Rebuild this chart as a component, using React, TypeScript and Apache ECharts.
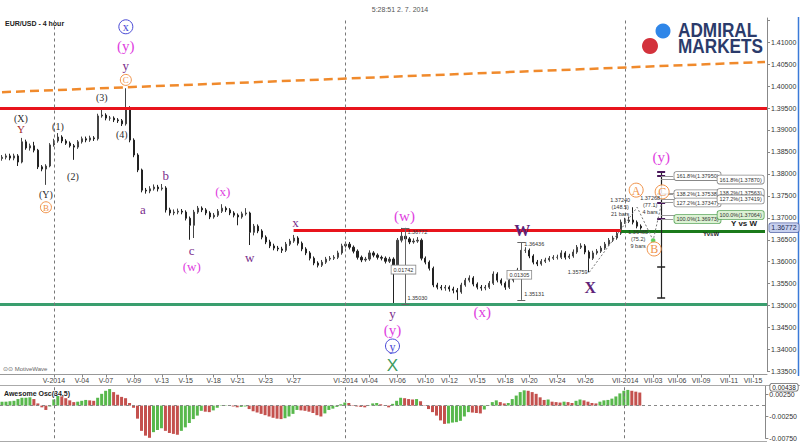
import React, { useEffect, useRef } from "react";
import * as echarts from "echarts";

// ---------- data ----------
const slotCount = 192; // 4H bar slots across the plot (incl. future area)
const firstOpen = 1.3835;
const closes = [
  1.3838, 1.3841, 1.3836, 1.3841, 1.3827, 1.3873, 1.3859, 1.3864, 1.3854, 1.3816,
  1.3811, 1.3818, 1.3866, 1.3875, 1.3884, 1.3875, 1.387, 1.3864, 1.3861, 1.3873,
  1.388, 1.3877, 1.3882, 1.388, 1.3932, 1.3934, 1.3927, 1.3927, 1.3923, 1.3921,
  1.3914, 1.395, 1.3877, 1.3843, 1.3809, 1.3763, 1.3761, 1.3766, 1.377, 1.3766,
  1.3768, 1.3718, 1.3711, 1.3713, 1.3715, 1.3713, 1.3699, 1.3683, 1.3713, 1.3722,
  1.3718, 1.3711, 1.3702, 1.3706, 1.3715, 1.3722, 1.3718, 1.3711, 1.3706, 1.3702,
  1.3709, 1.3711, 1.3667, 1.3681, 1.367, 1.3656, 1.3645, 1.3636, 1.3631, 1.3629,
  1.3626, 1.364, 1.3647, 1.3654, 1.3642, 1.3629, 1.362, 1.3608, 1.3597, 1.3592,
  1.3599, 1.3606, 1.3608, 1.361, 1.362, 1.3636, 1.364, 1.3633, 1.3624, 1.361,
  1.3604, 1.3606, 1.362, 1.3615, 1.361, 1.3608, 1.3601, 1.3606, 1.3581, 1.3649,
  1.3658, 1.3652, 1.3645, 1.3647, 1.3649, 1.3608, 1.3599, 1.3585, 1.3547, 1.3542,
  1.354, 1.3542, 1.3538, 1.3535, 1.3531, 1.3547, 1.3558, 1.3563, 1.3549, 1.3542,
  1.354, 1.3542, 1.3551, 1.3572, 1.3558, 1.3551, 1.3542, 1.3558, 1.3567, 1.3581,
  1.3626, 1.3626, 1.3613, 1.3599, 1.3595, 1.3601, 1.3604, 1.3608, 1.361, 1.361,
  1.362, 1.361, 1.3613, 1.3622, 1.3633, 1.3636, 1.3622, 1.3608, 1.362, 1.3624,
  1.3631, 1.364, 1.3649, 1.3654, 1.3665, 1.369, 1.3692, 1.3695, 1.369, 1.3681,
  1.3677,
];
const highs = [
  1.3843, 1.3846, 1.3846, 1.3846, 1.3845, 1.3882, 1.3878, 1.3869, 1.3873, 1.3857,
  1.382, 1.3822, 1.387, 1.388, 1.3893, 1.3888, 1.3879, 1.3874, 1.3868, 1.3877,
  1.3885, 1.3885, 1.3887, 1.3886, 1.3937, 1.3946, 1.3938, 1.3932, 1.3931, 1.3927,
  1.3925, 1.3995, 1.3954, 1.3881, 1.3847, 1.3812, 1.3768, 1.3772, 1.3776, 1.3775,
  1.3777, 1.3772, 1.3723, 1.3719, 1.3721, 1.372, 1.3717, 1.3703, 1.3718, 1.3727,
  1.3726, 1.3722, 1.3715, 1.3711, 1.372, 1.3731, 1.3726, 1.3722, 1.3715, 1.371,
  1.3714, 1.3722, 1.3714, 1.3686, 1.3685, 1.3674, 1.366, 1.365, 1.3641, 1.3636,
  1.3634, 1.3645, 1.3652, 1.3661, 1.3658, 1.3646, 1.3633, 1.3624, 1.3612, 1.3601,
  1.3604, 1.3611, 1.3613, 1.3615, 1.3625, 1.3641, 1.3646, 1.3645, 1.3637, 1.3628,
  1.3614, 1.3611, 1.3626, 1.3624, 1.3619, 1.3614, 1.3612, 1.3611, 1.361, 1.3654,
  1.3677, 1.3664, 1.3656, 1.3653, 1.3656, 1.3653, 1.3612, 1.3603, 1.3589, 1.3552,
  1.3547, 1.3547, 1.3546, 1.3543, 1.354, 1.3552, 1.3563, 1.3569, 1.3567, 1.3553,
  1.3547, 1.3547, 1.3556, 1.3578, 1.3576, 1.3562, 1.3555, 1.3563, 1.3572, 1.3586,
  1.3644, 1.3633, 1.363, 1.3617, 1.3604, 1.3606, 1.3609, 1.3613, 1.3615, 1.3616,
  1.3626, 1.3624, 1.3618, 1.3628, 1.3638, 1.3642, 1.364, 1.3626, 1.3625, 1.3629,
  1.3636, 1.3645, 1.3654, 1.3659, 1.367, 1.3696, 1.37, 1.3703, 1.3724, 1.3694,
  1.3685,
];
const lows = [
  1.383, 1.3833, 1.3831, 1.3831, 1.3818, 1.3824, 1.3855, 1.3853, 1.3849, 1.3811,
  1.3806, 1.3775, 1.3815, 1.3862, 1.3871, 1.387, 1.3866, 1.386, 1.3832, 1.3857,
  1.3869, 1.3872, 1.3873, 1.3875, 1.3876, 1.3928, 1.3922, 1.3921, 1.3918, 1.3916,
  1.3909, 1.391, 1.3872, 1.3838, 1.3804, 1.3758, 1.3755, 1.3756, 1.3762, 1.376,
  1.3762, 1.3712, 1.3705, 1.3706, 1.3708, 1.3708, 1.3694, 1.365, 1.3654, 1.3709,
  1.3713, 1.3706, 1.3697, 1.3698, 1.3702, 1.3711, 1.3713, 1.3706, 1.3701, 1.3683,
  1.3698, 1.3705, 1.3638, 1.366, 1.3665, 1.3651, 1.364, 1.3631, 1.3626, 1.3624,
  1.362, 1.3622, 1.3636, 1.3643, 1.3637, 1.3624, 1.3615, 1.3603, 1.3592, 1.3587,
  1.3588, 1.3595, 1.3602, 1.3604, 1.3606, 1.3616, 1.3632, 1.3628, 1.3619, 1.3605,
  1.3599, 1.36, 1.3602, 1.361, 1.3605, 1.3603, 1.3596, 1.3597, 1.3503, 1.3577,
  1.3644, 1.3647, 1.364, 1.3641, 1.3643, 1.3603, 1.3594, 1.358, 1.3542, 1.3537,
  1.3535, 1.3534, 1.3532, 1.3528, 1.3513, 1.3527, 1.3543, 1.3553, 1.3544, 1.3537,
  1.3534, 1.3535, 1.3538, 1.3547, 1.3553, 1.3546, 1.3536, 1.3538, 1.3553, 1.3563,
  1.3577, 1.362, 1.3608, 1.3594, 1.359, 1.3591, 1.3597, 1.36, 1.3604, 1.3605,
  1.3606, 1.3605, 1.3606, 1.3609, 1.3618, 1.3629, 1.3617, 1.3576, 1.3604, 1.3616,
  1.362, 1.3627, 1.3636, 1.3645, 1.365, 1.3661, 1.3686, 1.3688, 1.3685, 1.3676,
  1.3673,
];
const aoValues = [
  0.0009, 0.0009, 0.001, 0.0011, 0.0015, 0.0018, 0.0018, 0.0019, 0.0015, 0.0005,
  -0.0004, -0.001, -0.0002, 0.0014, 0.0022, 0.0021, 0.0017, 0.0012, 0.0008, 0.0009,
  0.0011, 0.0013, 0.0012, 0.0011, 0.0018, 0.0027, 0.0034, 0.0038, 0.0031, 0.0025,
  0.002, 0.0017, 0.0006, -0.0005, -0.003, -0.0058, -0.0069, -0.0074, -0.0061, -0.0056,
  -0.0052, -0.0058, -0.0063, -0.0065, -0.0067, -0.0058, -0.005, -0.004, -0.0031, -0.0023,
  -0.0012, -0.0014, -0.0015, -0.0011, -0.0005, -0.0001, 0.0001, -0.0001, -0.0002, -0.0004,
  -0.0003, -0.0002, -0.0008, -0.0013, -0.0016, -0.0019, -0.0022, -0.0025, -0.0028, -0.003,
  -0.0031, -0.0029, -0.0025, -0.0019, -0.001, -0.0011, -0.0012, -0.0014, -0.0017, -0.0022,
  -0.0025, -0.0018, -0.001, -0.0007, -0.0003, 0.0003, 0.0007, 0.0006, 0.0001, -0.0002,
  -0.0003, -0.0004, -0.0001, 0.0005, 0.0006, 0.0003, -0.0001, -0.0004, 0.0004, 0.0011,
  0.0018, 0.0017, 0.0015, 0.0014, 0.0015, 0.001, -0.0001, -0.0008, -0.0015, -0.0023,
  -0.0034, -0.0042, -0.0041, -0.0039, -0.0038, -0.0035, -0.0025, -0.0015, -0.0016, -0.0017,
  -0.0018, -0.0009, 0.0001, 0.0008, 0.0012, 0.0008, 0.0005, 0.0006, 0.0015, 0.0023,
  0.0031, 0.0035, 0.0034, 0.0031, 0.0027, 0.0019, 0.0013, 0.0014, 0.0009, 0.0008,
  0.0007, 0.0009, 0.0008, 0.0006, 0.0011, 0.0014, 0.0012, 0.0009, 0.0006, 0.0005,
  0.0009, 0.0012, 0.0013, 0.0016, 0.0021, 0.0028, 0.0034, 0.0036, 0.0034, 0.0032,
  0.003,
];
const timeLabelIdx = [13, 20, 26, 33, 40, 46, 53, 59, 66, 73, 86, 92, 99, 106, 112, 119, 126, 132, 139, 146, 156, 163, 169, 175, 182, 188];
const timeLabels = ["V-2014", "V-04", "V-07", "V-09", "V-13", "V-15", "V-18", "V-21", "V-23", "V-27", "VI-2014", "VI-04", "VI-06", "VI-10", "VI-12", "VI-15", "VI-18", "VI-20", "VI-24", "VI-26", "VII-2014", "VII-03", "VII-06", "VII-09", "VII-11", "VII-15"];
const monthStartIdx = [13, 86, 156];

const resistance = 1.395;
const support = 1.3503;
const redW = 1.3672;
const greenW = 1.3669;
const currentPrice = 1.36772;
const aoCurrentText = "0.00438";
const trendLine = [[0, 1.3986], [191, 1.4055]];
const projection = [[147, 1.35759], [159, 1.3724], [163, 1.36485], [165, 1.37288]];
const measure1 = { idx: 101, low: 1.3503, high: 1.36772, diff: "0.01742" };
const measure2 = { idx: 130, low: 1.35131, high: 1.36436, diff: "0.01305" };
const fibIdx = 165;
const fibRange = [1.3517, 1.3805];
const fibMid = 1.3588;
const fibLeft = [["161.8%", 1.3795], ["138.2%", 1.37538], ["127.2%", 1.37347], ["100.0%", 1.36973]];
const fibRight = [["161.8%", 1.3787], ["138.2%", 1.37563], ["127.2%", 1.37419], ["100.0%", 1.37064]];

// wave labels: [index, price, text, kind]
const waveLabels: [number, number, string, string][] = [
  [4.75, 1.3927, "(X)", "dark"],
  [4.75, 1.3902, "Y", "brown"],
  [14, 1.3907, "(1)", "dark"],
  [17.75, 1.3795, "(2)", "dark"],
  [25, 1.3973, "(3)", "dark"],
  [30, 1.3889, "(4)", "dark"],
  [11, 1.3754, "(Y)", "dark"],
  [35.25, 1.372, "a", "purple"],
  [41, 1.3797, "b", "purple"],
  [55.25, 1.3759, "(x)", "magenta"],
  [47.5, 1.3626, "c", "purple"],
  [47.5, 1.3588, "(w)", "magenta"],
  [62, 1.361, "w", "purple"],
  [73.5, 1.369, "x", "purple"],
  [100.75, 1.3704, "(w)", "magentaL"],
  [130.25, 1.367, "W", "purpleL"],
  [120.25, 1.3485, "(x)", "magentaL"],
  [97.75, 1.3481, "y", "purple"],
  [97.75, 1.3444, "(y)", "magentaL"],
  [97.75, 1.3364, "X", "green"],
  [147.25, 1.3542, "X", "purpleL"],
  [165, 1.3839, "(y)", "magentaL"],
  [31, 1.4046, "y", "purple"],
  [31, 1.4092, "(y)", "magentaL"],
];
// circled labels: [index, price, letter, color, radius]
const circled: [number, number, string, string, number][] = [
  [31, 1.4135, "x", "#4a4ad6", 7],
  [31, 1.4014, "C", "#f0934a", 5.5],
  [11, 1.3724, "B", "#f0934a", 5.5],
  [97.75, 1.3408, "y", "#4a4ad6", 7],
  [158.75, 1.3763, "A", "#f0934a", 7],
  [163.25, 1.3629, "B", "#f0934a", 7],
  [165.25, 1.3759, "C", "#f0934a", 7],
];
// small info texts: [index, price, text, align]
const infoTexts: [number, number, string, string][] = [
  [154.75, 1.3725, "1.37240\n(148.5)\n21 bars", "center"],
  [162.25, 1.3729, "1.37268\n(77.1)\n4 bars", "center"],
  [159.25, 1.3652, "1.36485\n(75.2)\n9 bars", "center"],
  [146.6, 1.3576, "1.35759", "right"],
  [101.5, 1.3667, "1.36772", "left"],
  [101.5, 1.3518, "1.35030", "left"],
  [130.75, 1.364, "1.36436", "left"],
  [130.75, 1.3526, "1.35131", "left"],
];

const AO_GREEN = "#58b84c";
const AO_RED = "#c4514e";

export default function App() {
  const ref = useRef<HTMLDivElement>(null);
  useEffect(() => {
    const chart = echarts.init(ref.current!, null, { renderer: "svg" });
    const cats = Array.from({ length: slotCount }, (_, i) => String(i));
    const labelMap: Record<number, string> = {};
    timeLabelIdx.forEach((idx, k) => (labelMap[idx] = timeLabels[k]));
    const candles = closes.map((c, i) => [i === 0 ? firstOpen : closes[i - 1], c, lows[i], highs[i]]);
    const aoData = aoValues.map((v, i) => ({
      value: v,
      itemStyle: { color: i > 0 && v < aoValues[i - 1] ? AO_RED : AO_GREEN },
    }));

    const seg = (a: number[], b: number[], ls: any) => [
      { coord: a, lineStyle: ls },
      { coord: b, lineStyle: ls },
    ];
    const gray = { color: "#666", width: 1, type: "solid" };
    const fibLs = { color: "#999", width: 1, type: "solid" };
    const capPurple = { color: "#4b1a5c", width: 2, type: "solid" };
    const mainLines: any[] = [
      { yAxis: resistance, lineStyle: { color: "#e8141c", width: 3, type: "solid" } },
      { yAxis: support, lineStyle: { color: "#3a9e6e", width: 3, type: "solid" } },
      ...monthStartIdx.map((i) => ({ xAxis: i, lineStyle: { color: "#777", width: 1, type: [3, 3] } })),
      seg(trendLine[0], trendLine[1], { color: "#f08a2c", width: 2.5, type: [9, 5] }),
      seg([73, redW], [155, redW], { color: "#e8141c", width: 3, type: "solid" }),
      seg([155, greenW], [191, greenW], { color: "#1b7a1b", width: 3, type: "solid" }),
      seg([measure1.idx, measure1.low], [measure1.idx, measure1.high], gray),
      seg([measure1.idx - 1, measure1.low], [measure1.idx + 1, measure1.low], gray),
      seg([measure1.idx - 1, measure1.high], [measure1.idx + 1, measure1.high], gray),
      seg([measure2.idx, measure2.low], [measure2.idx, measure2.high], gray),
      seg([measure2.idx - 1, measure2.low], [measure2.idx + 1, measure2.low], gray),
      seg([measure2.idx - 1, measure2.high], [measure2.idx + 1, measure2.high], gray),
      seg([fibIdx, fibRange[0]], [fibIdx, fibRange[1]], { color: "#222", width: 1.2, type: "solid" }),
      seg([fibIdx - 1, fibRange[0]], [fibIdx + 1, fibRange[0]], { color: "#222", width: 1.5, type: "solid" }),
      seg([fibIdx - 1, fibMid], [fibIdx + 1, fibMid], { color: "#222", width: 1.5, type: "solid" }),
      seg([fibIdx - 1, fibRange[1]], [fibIdx + 1, fibRange[1]], capPurple),
      ...fibLeft.map((f) => seg([fibIdx - 1, f[1] as number], [fibIdx + 1, f[1] as number], capPurple)),
      ...fibLeft.map((f) => seg([fibIdx, f[1] as number], [fibIdx + 3, f[1] as number], fibLs)),
      ...fibRight.map((f) => seg([fibIdx, f[1] as number], [fibIdx + 14, f[1] as number], fibLs)),
    ];

    chart.setOption({
      animation: false,
      textStyle: { fontFamily: "Liberation Sans" },
      grid: [
        { left: 0, right: 33, top: 18, bottom: 71.5 },
        { left: 0, right: 33, top: 386, bottom: 4.75 },
      ],
      xAxis: [
        {
          type: "category",
          gridIndex: 0,
          data: cats,
          boundaryGap: true,
          offset: 3,
          axisLine: { show: true, lineStyle: { color: "#999" } },
          axisTick: {
            show: true,
            alignWithLabel: true,
            length: 3,
            interval: (idx: number) => labelMap[idx] !== undefined,
            lineStyle: { color: "#888" },
          },
          axisLabel: {
            interval: (idx: number) => labelMap[idx] !== undefined,
            formatter: (_v: string, idx: number) => labelMap[idx] || "",
            fontSize: 7,
            color: "#444",
            margin: 2,
          },
          splitLine: { show: false },
        },
        {
          type: "category",
          gridIndex: 1,
          data: cats,
          boundaryGap: true,
          axisLine: { show: false },
          axisTick: { show: false },
          axisLabel: { show: false },
          splitLine: { show: false },
        },
      ],
      yAxis: [
        {
          type: "value",
          gridIndex: 0,
          position: "right",
          min: 1.335,
          max: 1.4155,
          interval: 0.005,
          scale: true,
          axisLine: { show: true, lineStyle: { color: "#888" } },
          axisTick: { show: true, length: 3, lineStyle: { color: "#888" } },
          axisLabel: {
            fontSize: 7,
            color: "#333",
            margin: 4,
            showMaxLabel: false,
            formatter: (v: number) => (v > 1.4125 ? "" : v.toFixed(5)),
          },
          splitLine: { show: false },
        },
        {
          type: "value",
          gridIndex: 1,
          position: "right",
          min: -0.0075,
          max: 0.0045,
          interval: 0.005,
          axisLine: { show: true, lineStyle: { color: "#888" } },
          axisTick: { show: true, length: 3, lineStyle: { color: "#888" } },
          axisLabel: {
            fontSize: 7,
            color: "#333",
            margin: 4,
            showMaxLabel: false,
            formatter: (v: number) => v.toFixed(5),
          },
          splitLine: { show: false },
        },
      ],
      series: [
        {
          type: "candlestick",
          xAxisIndex: 0,
          yAxisIndex: 0,
          data: candles,
          barWidth: 1.6,
          itemStyle: {
            color: "#444",
            color0: "#222",
            borderColor: "#444",
            borderColor0: "#222",
            borderWidth: 1,
          },
          markLine: {
            silent: true,
            precision: 5,
            symbol: ["none", "none"],
            label: { show: false },
            animation: false,
            data: mainLines,
          },
        },
        {
          type: "line",
          xAxisIndex: 0,
          yAxisIndex: 0,
          data: projection,
          symbol: "circle",
          symbolSize: 5,
          itemStyle: { color: "#5fcf5f", borderColor: "#fff", borderWidth: 0.5 },
          lineStyle: { color: "#777", width: 1, type: [2, 2] },
          z: 5,
        },
        {
          type: "bar",
          xAxisIndex: 1,
          yAxisIndex: 1,
          data: aoData,
          barWidth: 3,
          markLine: {
            silent: true,
            precision: 5,
            symbol: ["none", "none"],
            label: { show: false },
            data: [
              { yAxis: 0, lineStyle: { color: "#888", width: 1, type: [3, 3] } },
              ...monthStartIdx.map((i) => ({ xAxis: i, lineStyle: { color: "#777", width: 1, type: [3, 3] } })),
            ],
          },
        },
      ],
    });

    // annotations placed through the axes' scales
    const x0 = chart.convertToPixel({ xAxisIndex: 0 }, 0) as unknown as number;
    const x1 = chart.convertToPixel({ xAxisIndex: 0 }, 1) as unknown as number;
    const X = (i: number) => x0 + (x1 - x0) * i;
    const Y = (p: number) => chart.convertToPixel({ yAxisIndex: 0 }, p) as unknown as number;
    const YA = (v: number) => chart.convertToPixel({ yAxisIndex: 1 }, v) as unknown as number;

    const kinds: Record<string, any> = {
      dark: { fill: "#2b2b2b", font: '10px "Liberation Serif"' },
      brown: { fill: "#a3282a", font: '11px "Liberation Serif"' },
      purple: { fill: "#7a2c8c", font: '13px "Liberation Serif"' },
      purpleL: { fill: "#5f2378", font: 'bold 16px "Liberation Serif"' },
      magenta: { fill: "#e040e0", font: '13px "Liberation Serif"' },
      magentaL: { fill: "#e040e0", font: '15px "Liberation Serif"' },
      green: { fill: "#3d9a60", font: '17px "Liberation Sans"' },
    };
    const g: any[] = [];
    waveLabels.forEach(([i, p, t, k]) => {
      g.push({
        type: "text",
        x: X(i),
        y: Y(p),
        z: 10,
        style: { text: t, ...kinds[k], align: "center", verticalAlign: "middle" },
      });
    });
    circled.forEach(([i, p, t, c, r]) => {
      g.push({ type: "circle", z: 10, shape: { cx: X(i), cy: Y(p), r }, style: { fill: "rgba(255,255,255,0.85)", stroke: c, lineWidth: 1 } });
      g.push({
        type: "text",
        z: 11,
        x: X(i),
        y: Y(p) + 0.5,
        style: { text: t, fill: c, font: `${Math.round(r * 1.7)}px "Liberation Serif"`, align: "center", verticalAlign: "middle" },
      });
    });
    infoTexts.forEach(([i, p, t, a]) => {
      g.push({
        type: "text",
        z: 10,
        x: X(i),
        y: Y(p),
        style: { text: t, fill: "#333", font: '5.5px "Liberation Sans"', lineHeight: 7, align: a, verticalAlign: "middle" },
      });
    });
    [measure1, measure2].forEach((m) => {
      g.push({
        type: "text",
        z: 10,
        x: X(m.idx - 0.5),
        y: Y((m.low + m.high) / 2 - 0.0008),
        style: {
          text: m.diff, fill: "#333", font: '5.5px "Liberation Sans"', align: "center", verticalAlign: "middle",
          backgroundColor: "#fff", borderColor: "#888", borderWidth: 0.8, padding: [1, 2],
        },
      });
    });
    const fibBox = (f: any[], xi: number) => {
      const isHundred = f[0] === "100.0%";
      g.push({
        type: "text",
        z: 10,
        x: X(xi),
        y: Y(f[1]),
        style: {
          text: `${f[0]}(${(f[1] as number).toFixed(5)})`,
          fill: "#333",
          font: '5.5px "Liberation Sans"',
          align: "center",
          verticalAlign: "middle",
          backgroundColor: isHundred ? "#dcf2d4" : "#fff",
          borderColor: isHundred ? "#5aa55a" : "#888",
          borderWidth: 0.8,
          borderRadius: 2,
          padding: [1, 2],
        },
      });
    };
    fibLeft.forEach((f) => fibBox(f, 174.1));
    fibRight.forEach((f) => fibBox(f, 184.9));
    g.push({ type: "text", z: 10, x: X(185.75), y: Y(1.3686), style: { text: "Y vs W", fill: "#222", font: 'bold 8px "Liberation Sans"', align: "center", verticalAlign: "middle" } });
    g.push({ type: "text", z: 10, x: X(177.5), y: Y(1.3663), style: { text: "YvsW", fill: "#222", font: 'bold 6px "Liberation Sans"', align: "center", verticalAlign: "middle" } });
    // current price box on the price axis
    g.push({
      type: "text",
      z: 12,
      x: 784,
      y: Y(currentPrice),
      style: {
        text: currentPrice.toFixed(5), fill: "#1e2a55", font: '7px "Liberation Sans"', align: "center", verticalAlign: "middle",
        backgroundColor: "#c7d0ee", borderColor: "#5a6aa8", borderWidth: 0.8, borderRadius: 2, padding: [1, 2],
      },
    });
    // current AO value box (top of the oscillator scale)
    g.push({
      type: "text",
      z: 12,
      x: 784,
      y: YA(0.0042),
      style: {
        text: aoCurrentText, fill: "#222", font: '6.5px "Liberation Sans"', align: "center", verticalAlign: "middle",
        backgroundColor: "#fff", borderColor: "#666", borderWidth: 0.8, borderRadius: 2, padding: [0, 2],
      },
    });
    // frame / texts
    g.push({ type: "line", z: 1, shape: { x1: 0, y1: 385.5, x2: 800, y2: 385.5 }, style: { stroke: "#aaa", lineWidth: 1 } });
    g.push({ type: "line", z: 1, shape: { x1: 0, y1: 441.5, x2: 767, y2: 441.5 }, style: { stroke: "#aaa", lineWidth: 1 } });
    g.push({ type: "line", z: 1, shape: { x1: 798.5, y1: 17, x2: 798.5, y2: 376 }, style: { stroke: "#3a7ad8", lineWidth: 1.5 } });
    g.push({ type: "text", x: 5, y: 23, style: { text: "EUR/USD - 4 hour", fill: "#222", font: 'bold 7px "Liberation Sans"', verticalAlign: "middle" } });
    g.push({ type: "text", x: 400, y: 9, style: { text: "5:28:51 2. 7. 2014", fill: "#555", font: '7px "Liberation Sans"', align: "center", verticalAlign: "middle" } });
    g.push({ type: "text", x: 3, y: 369, style: { text: "⊙⊙ MotiveWave", fill: "#666", font: '6px "Liberation Sans"', verticalAlign: "middle" } });
    g.push({ type: "text", x: 4, y: 393, style: { text: "Awesome Osc(34,5)", fill: "#222", font: 'bold 7px "Liberation Sans"', verticalAlign: "middle" } });
    // logo
    g.push({ type: "circle", z: 20, shape: { cx: 663, cy: 31, r: 7.5 }, style: { fill: "#2f86e8" } });
    g.push({ type: "circle", z: 20, shape: { cx: 650, cy: 46, r: 8 }, style: { fill: "#d3323c" } });
    g.push({
      type: "text",
      z: 20,
      x: 678,
      y: 38,
      scaleX: 0.86,
      style: {
        text: "ADMIRAL\nMARKETS",
        fill: "#2b3b6b",
        font: 'bold 20px "Liberation Sans"',
        lineHeight: 16.5,
        verticalAlign: "middle",
      },
    });

    chart.setOption({ graphic: g });
    return () => chart.dispose();
  }, []);
  return (
    <div
      ref={ref}
      style={{ position: "absolute", left: 0, top: 0, width: 800, height: 443, background: "#fff" }}
    />
  );
}
